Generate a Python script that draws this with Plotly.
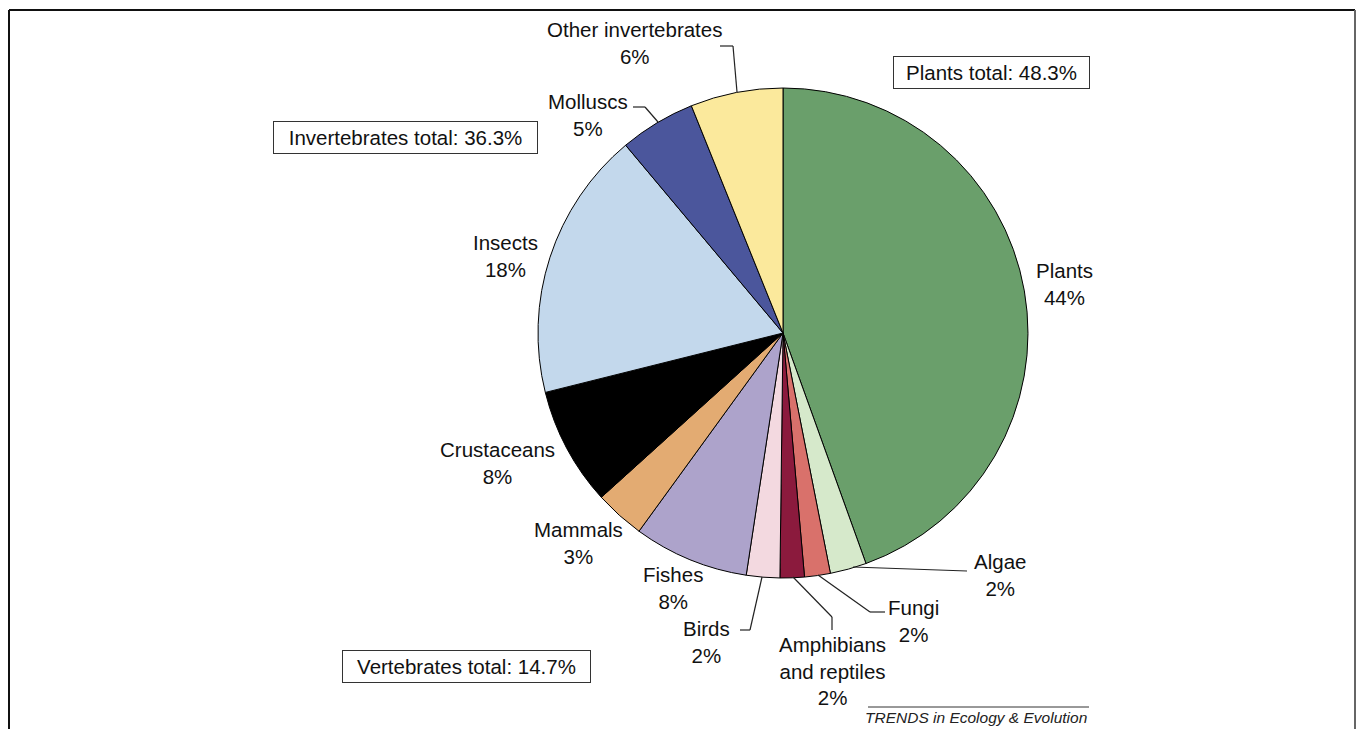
import plotly.graph_objects as go

W, H = 1359, 729

categories = ["Plants", "Algae", "Fungi", "Amphibians and reptiles", "Birds",
              "Fishes", "Mammals", "Crustaceans", "Insects", "Molluscs",
              "Other invertebrates"]
shares = [44.5, 2.4, 1.7, 1.6, 2.2, 7.6, 3.3, 7.8, 17.8, 5.0, 6.1]
label_pct = ["44%", "2%", "2%", "2%", "2%", "8%", "3%", "8%", "18%", "5%", "6%"]
label_names = ["Plants", "Algae", "Fungi", "Amphibians<br>and reptiles", "Birds",
               "Fishes", "Mammals", "Crustaceans", "Insects", "Molluscs",
               "Other invertebrates"]
colors = ["#6a9f6b", "#d6e9cb", "#d9716b", "#8b1a3d", "#f3d9e0",
          "#ada3cb", "#e3ab72", "#000000", "#c3d8ec", "#4b569c", "#fbe99c"]
group_totals = ["Plants total: 48.3%", "Invertebrates total: 36.3%",
                "Vertebrates total: 14.7%"]

FONT = "Liberation Sans, Arial, Helvetica, sans-serif"


def px(x):
    return x / W


def py(y):
    return 1 - y / H


cx, cy, r = 783, 333, 245

fig = go.Figure(go.Pie(
    labels=categories,
    values=shares,
    sort=False,
    direction="clockwise",
    rotation=0,
    textinfo="none",
    marker=dict(colors=colors, line=dict(color="#000000", width=1)),
    domain=dict(x=[px(cx - r), px(cx + r)], y=[py(cy + r), py(cy - r)]),
    showlegend=False,
))

# label block centres (pixels)
label_pos = [(1064, 284), (1000, 575), (913, 621), (832, 671), (707, 642),
             (673, 588), (578, 543), (497, 463), (505, 256), (588, 115),
             (634, 43)]

annotations = []
for name, pct, (x, y) in zip(label_names, label_pct, label_pos):
    annotations.append(dict(
        x=px(x), y=py(y), xref="paper", yref="paper",
        text=f"{name}<br>{pct}", showarrow=False,
        font=dict(family=FONT, size=20.5, color="#111111"),
        xanchor="center", yanchor="middle", align="center",
    ))

box_pos = [(991, 73, 195), (405, 137.5, 263), (466, 666, 247)]
for txt, (x, y, w) in zip(group_totals, box_pos):
    annotations.append(dict(
        x=px(x), y=py(y), xref="paper", yref="paper",
        text=txt, showarrow=False,
        font=dict(family=FONT, size=20.5, color="#111111"),
        xanchor="center", yanchor="middle", align="center",
        bordercolor="#333333", borderwidth=1, borderpad=0,
        width=w, height=31, bgcolor="#ffffff",
    ))

annotations.append(dict(
    x=px(1089), y=py(717), xref="paper", yref="paper",
    text="<i>TRENDS in Ecology &amp; Evolution</i>", showarrow=False,
    font=dict(family=FONT, size=15.5, color="#222222"),
    xanchor="right", yanchor="middle",
))

leaders = [
    [(720, 46), (733, 46), (737, 92)],
    [(633, 107), (645, 107), (658, 122)],
    [(967, 571), (853, 567)],
    [(885, 612), (870, 612), (818, 575)],
    [(832, 630), (832, 617), (793, 577)],
    [(740, 630), (750, 630), (762, 577)],
]
shapes = []
for pts in leaders:
    for (x0, y0), (x1, y1) in zip(pts[:-1], pts[1:]):
        shapes.append(dict(type="line", xref="paper", yref="paper",
                           x0=px(x0), y0=py(y0), x1=px(x1), y1=py(y1),
                           line=dict(color="#222222", width=1.2)))

# footer rule
shapes.append(dict(type="line", xref="paper", yref="paper",
                   x0=px(868), y0=py(707), x1=px(1089), y1=py(707),
                   line=dict(color="#333333", width=1)))
# frame
shapes.append(dict(type="line", xref="paper", yref="paper",
                   x0=px(9), y0=py(10), x1=px(1355), y1=py(10),
                   line=dict(color="#111111", width=2)))
shapes.append(dict(type="line", xref="paper", yref="paper",
                   x0=px(9), y0=py(10), x1=px(9), y1=py(729),
                   line=dict(color="#111111", width=2)))
shapes.append(dict(type="line", xref="paper", yref="paper",
                   x0=px(1355), y0=py(10), x1=px(1355), y1=py(729),
                   line=dict(color="#666666", width=2)))

fig.update_layout(
    width=W, height=H,
    margin=dict(l=0, r=0, t=0, b=0),
    paper_bgcolor="#ffffff",
    plot_bgcolor="#ffffff",
    annotations=annotations,
    shapes=shapes,
)

fig.write_html(
    "out.html",
    config={"displayModeBar": False},
    post_script="document.body.style.margin='0';document.body.style.overflow='hidden';",
)
